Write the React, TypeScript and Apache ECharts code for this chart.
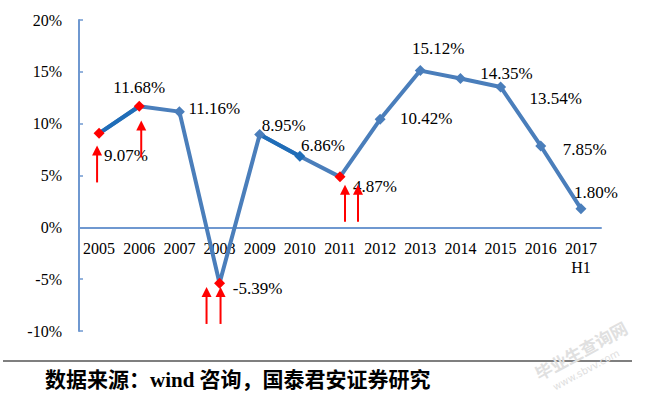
import React, { useEffect, useRef } from "react";
import * as echarts from "echarts";

const categories = ["2005", "2006", "2007", "2008", "2009", "2010", "2011", "2012", "2013", "2014", "2015", "2016", "2017\nH1"];
const growth = [9.07, 11.68, 11.16, -5.39, 8.95, 6.86, 4.87, 10.42, 15.12, 14.35, 13.54, 7.85, 1.8];
const yTicks = [-10, -5, 0, 5, 10, 15, 20];
const highlightedYears = ["2005", "2006", "2008", "2011"];
const darkSegments = [["2005", "2006"], ["2009", "2010"]];
const arrowYears = ["2005", "2006", "2008", "2008", "2011", "2011"];
const arrowTips = [7.9, 10.3, -5.75, -5.75, 4.1, 4.1];
const sourceText = "数据来源：wind 咨询，国泰君安证券研究";

// layout (not data)
const labelOffsets: number[][] = [
  [27, 22], [0, -19], [35, -3], [38, 5], [24, -9], [23, -11], [35, 10],
  [46, -1], [18, -22], [46, -5], [55, 12], [44, 4], [15, -16],
];
const arrowDx = [-2, 2, -13, 1, 5, 18];

const MAIN = "#4A7EBB";
const DARK = "#1F6DB8";
const RED = "#FF0000";
const AXIS = "#6F98D0";
const SERIF = "'Liberation Serif', 'Times New Roman', serif";

export default function App() {
  const ref = useRef<HTMLDivElement>(null);
  useEffect(() => {
    if (!ref.current) return;
    const chart = echarts.init(ref.current, null, { renderer: "svg" });
    const catKey = (c: string) => c.split("\n")[0];
    const gridTop = 20;
    const gridBottom = 65;
    const gridH = 396 - gridTop - gridBottom;
    const yMin = yTicks[0];
    const yMax = yTicks[yTicks.length - 1];
    const zeroOffset = -(gridH * (0 - yMin)) / (yMax - yMin);
    const segSeries = darkSegments.map((seg) => {
      const a = categories.findIndex((c) => catKey(c) === seg[0]);
      const b = categories.findIndex((c) => catKey(c) === seg[1]);
      return {
        type: "line",
        data: growth.map((v, i) => (i >= a && i <= b ? v : null)),
        showSymbol: false,
        lineStyle: { color: DARK, width: 4 },
        z: 3,
        silent: true,
      };
    });
    const arrowData = arrowYears.map((y, i) => [
      categories.findIndex((c) => catKey(c) === y),
      arrowTips[i],
    ]);
    chart.setOption({
      animation: false,
      grid: { left: 79, right: 54, top: gridTop, bottom: gridBottom, containLabel: false },
      xAxis: {
        type: "category",
        data: categories,
        boundaryGap: true,
        offset: zeroOffset,
        axisLine: { onZero: false, lineStyle: { color: AXIS, width: 2 } },
        axisTick: { inside: true, length: 4, lineStyle: { color: AXIS, width: 1.5 } },
        axisLabel: {
          interval: 0,
          margin: 12,
          color: "#000",
          fontSize: 16,
          fontFamily: SERIF,
          lineHeight: 19,
        },
      },
      yAxis: {
        type: "value",
        min: yMin,
        max: yMax,
        interval: 5,
        axisLine: { show: true, lineStyle: { color: AXIS, width: 2 } },
        axisTick: { show: true, inside: true, length: 4, lineStyle: { color: AXIS, width: 1.5 } },
        splitLine: { show: false },
        axisLabel: {
          margin: 17,
          color: "#000",
          fontSize: 16,
          fontFamily: SERIF,
          formatter: (v: number) => `${v}%`,
        },
      },
      series: [
        {
          type: "line",
          data: growth,
          showSymbol: false,
          lineStyle: { color: MAIN, width: 4 },
          z: 2,
          silent: true,
        },
        ...segSeries,
        {
          type: "line",
          data: growth.map((v, i) => {
            const year = catKey(categories[i]);
            const isRed = highlightedYears.includes(year);
            const isDark = darkSegments.some((s) => s[1] === year && !isRed);
            return {
              value: v,
              itemStyle: { color: isRed ? RED : isDark ? DARK : MAIN },
              label: { offset: labelOffsets[i] },
            };
          }),
          symbol: "diamond",
          symbolSize: 11,
          showSymbol: true,
          lineStyle: { opacity: 0, width: 0 },
          label: {
            show: true,
            position: "inside",
            color: "#000",
            fontSize: 17,
            fontFamily: SERIF,
            formatter: (p: any) => `${p.value.toFixed(2)}%`,
          },
          z: 4,
          silent: true,
        },
        {
          type: "custom",
          data: arrowData,
          z: 5,
          silent: true,
          renderItem: (params: any, api: any) => {
            const p = api.coord([api.value(0), api.value(1)]);
            const x = p[0] + arrowDx[params.dataIndex];
            const y = p[1];
            return {
              type: "group",
              children: [
                {
                  type: "polygon",
                  shape: { points: [[x, y], [x - 5, y + 10], [x + 5, y + 10]] },
                  style: { fill: RED },
                },
                {
                  type: "rect",
                  shape: { x: x - 1, y: y + 9, width: 2, height: 28 },
                  style: { fill: RED },
                },
              ],
            };
          },
        },
      ],
      graphic: [
        {
          type: "line",
          shape: { x1: 3, y1: 361, x2: 632, y2: 361 },
          style: { stroke: "#555", lineWidth: 1.5 },
        },
        {
          type: "text",
          x: 45,
          y: 380,
          style: {
            text: sourceText,
            fill: "#000",
            fontSize: 21,
            fontWeight: "bold",
            fontFamily: "'Liberation Serif', 'Noto Sans CJK SC', serif",
            verticalAlign: "middle",
          },
        },
        {
          type: "text",
          x: 540,
          y: 382,
          rotation: 0.5,
          style: {
            text: "毕业生查询网",
            fill: "#e0e0e0",
            fontSize: 17,
            fontWeight: "bold",
            fontFamily: "'Noto Sans CJK SC', sans-serif",
            verticalAlign: "bottom",
          },
        },
        {
          type: "text",
          x: 556,
          y: 392,
          rotation: 0.5,
          style: {
            text: "www.sbvv.com",
            fill: "#e0e0e0",
            fontSize: 10,
            fontFamily: "'DejaVu Sans', sans-serif",
            verticalAlign: "bottom",
          },
        },
      ],
    });
    return () => chart.dispose();
  }, []);
  return (
    <div
      ref={ref}
      style={{ position: "fixed", left: 0, top: 0, width: 655, height: 396, background: "#fff" }}
    />
  );
}
